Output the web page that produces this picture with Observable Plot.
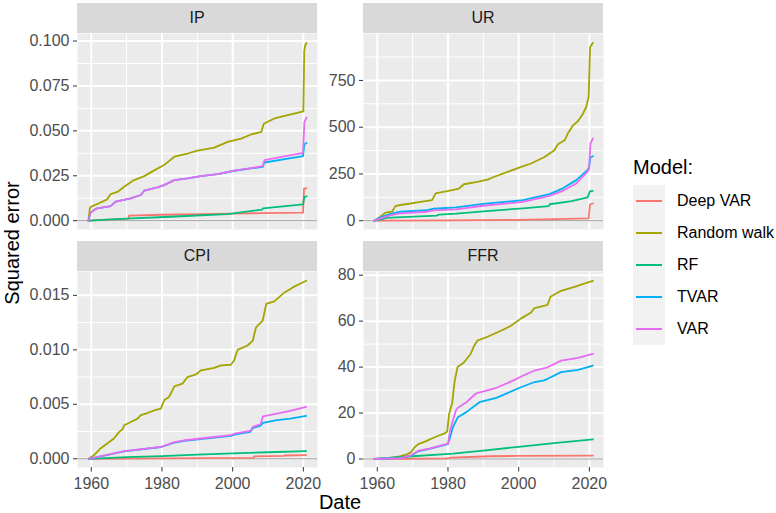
<!DOCTYPE html>
<html><head><meta charset="utf-8">
<script src="https://cdn.jsdelivr.net/npm/d3@7"></script>
<script src="https://cdn.jsdelivr.net/npm/@observablehq/plot@0.6"></script>
<style>
body{margin:0;background:#fff;}
#root{position:relative;width:776px;height:513px;font-family:"Liberation Sans",Arial,sans-serif;overflow:hidden;background:#fff;}
.strip{position:absolute;background:#D9D9D9;color:#1A1A1A;font-size:16px;display:flex;align-items:center;justify-content:center;}
.panel{position:absolute;}
.title{position:absolute;color:#000;font-size:20px;line-height:20px;white-space:nowrap;}
.key{position:absolute;width:32px;height:32px;background:#F2F2F2;}
.key div{position:absolute;left:3px;width:26px;height:2px;top:15px;}
.lab{position:absolute;font-size:16px;line-height:20px;color:#000;white-space:nowrap;}
</style></head><body><div id="root"></div>
<script>
const models = ["Deep VAR","Random walk","RF","TVAR","VAR"];
const colors = ["#F8766D","#A3A500","#00BF7D","#00B0F6","#E76BF3"];
const xMajor = [1960,1980,2000,2020];
const xMinor = [1970,1990,2010];

// IP
const ipDeepVAR = [[1959.2,0],[1965,0.0006],[1970.5,0.0012],[1970.7,0.0028],[1980,0.0033],[1990,0.0036],[2000,0.0039],[2008,0.0042],[2019.9,0.0045],[2020.2,0.018],[2020.9,0.018]];
const ipRandomWalk = [[1959.2,0],[1959.6,0.0070],[1960.0,0.0078],[1961.7,0.0093],[1964.5,0.0119],[1965.5,0.0148],[1967.4,0.0160],[1969.3,0.0189],[1972.1,0.0226],[1975.0,0.0248],[1977.8,0.0280],[1980.6,0.0310],[1982.5,0.0340],[1983.5,0.0356],[1987.2,0.0374],[1990.1,0.0390],[1994.8,0.0407],[1998.6,0.0439],[2002.4,0.0457],[2005.2,0.0480],[2008.1,0.0494],[2008.8,0.0540],[2011.8,0.0569],[2015.6,0.0587],[2020.0,0.0608],[2020.25,0.0945],[2020.5,0.0975],[2020.9,0.0989]];
const ipRF = [[1959.2,0],[1970,0.0012],[1982.4,0.0022],[1998.5,0.0037],[2008.3,0.0062],[2008.6,0.0069],[2019.9,0.0091],[2020.3,0.0133],[2020.9,0.0136]];
const ipTVAR = [[1959.2,0],[1959.8,0.0045],[1960.8,0.0060],[1961.7,0.0069],[1965.5,0.0081],[1966.9,0.0106],[1971.2,0.0124],[1974.0,0.0143],[1975.0,0.0167],[1978.7,0.0185],[1980.6,0.0198],[1983.5,0.0226],[1987.2,0.0235],[1991.0,0.0248],[1995.8,0.0259],[2000.5,0.0278],[2005.2,0.0291],[2008.5,0.0300],[2009.0,0.0324],[2019.9,0.0359],[2020.3,0.0426],[2020.9,0.0433]];
const ipVAR = [[1959.2,0],[1959.8,0.0045],[1960.8,0.0060],[1961.7,0.0069],[1965.5,0.0081],[1966.9,0.0106],[1971.2,0.0124],[1974.0,0.0143],[1975.0,0.0167],[1978.7,0.0185],[1980.6,0.0198],[1983.5,0.0226],[1987.2,0.0235],[1991.0,0.0248],[1995.8,0.0259],[2000.5,0.0279],[2005.2,0.0293],[2008.5,0.0304],[2009.0,0.0337],[2019.9,0.0378],[2020.3,0.0550],[2020.9,0.0574]];

// UR
const urDeepVAR = [[1959.15,0],[1980,2],[2000,5],[2010,8],[2019.8,12],[2020.2,88],[2021,92]];
const urRandomWalk = [[1959.15,0],[1960.85,21],[1962.3,43],[1964.2,48],[1965.1,78],[1966.5,84],[1969.4,92],[1972.2,101],[1975.5,110],[1976.5,146],[1979.8,158],[1983.1,172],[1984.5,195],[1988.3,208],[1991.2,220],[1993.1,235],[1996.9,261],[2000.7,288],[2003.5,306],[2007.3,341],[2010.1,377],[2011.1,409],[2013.0,430],[2013.9,466],[2015.4,510],[2016.8,533],[2018.2,572],[2019.1,608],[2019.8,661],[2020.2,928],[2021.0,951]];
const urRF = [[1959.15,0],[1961.5,8],[1962.5,15],[1965.4,18],[1976.8,27],[1977.5,33],[1982.3,38],[1991.8,53],[2001.2,66],[2008.5,78],[2008.8,88],[2015,105],[2019.5,125],[2020.2,158],[2021,160]];
const urTVAR = [[1959.15,0],[1960.85,18],[1963.6,36],[1966.5,48],[1974.1,57],[1976.0,64],[1982.3,71],[1990,90],[2001.2,110],[2008.7,142],[2012.5,173],[2016.3,217],[2019.5,272],[2019.9,285],[2020.3,338],[2021.0,345]];
const urVAR = [[1959.15,0],[1960.85,12],[1963.6,28],[1966.5,39],[1974.1,48],[1976.0,55],[1982.3,61],[1990,80],[2001.2,101],[2008.7,133],[2012.5,160],[2016.3,199],[2019.5,262],[2019.9,275],[2020.3,412],[2021.0,440]];

// CPI
const cpiDeepVAR = [[1959.3,0],[1980,0.00003],[2005.8,0.00008],[2006.1,0.00022],[2014.5,0.00026],[2014.8,0.0003],[2020.8,0.00034]];
const cpiRandomWalk = [[1959.3,0],[1960.8,0.00034],[1962.6,0.00095],[1964.5,0.0014],[1966.4,0.00186],[1967.9,0.00247],[1968.8,0.00268],[1969.3,0.00308],[1971.2,0.00338],[1973.1,0.00369],[1974.0,0.0040],[1975.9,0.0042],[1977.8,0.00445],[1979.7,0.0046],[1980.6,0.00537],[1982.0,0.00567],[1983.5,0.00665],[1985.8,0.00689],[1987.2,0.0075],[1989.6,0.00774],[1991.0,0.00811],[1994.8,0.00835],[1996.7,0.00857],[1999.5,0.00863],[2000.4,0.00902],[2001.4,0.0100],[2004.2,0.0104],[2005.7,0.01085],[2006.6,0.01207],[2008.5,0.01268],[2009.5,0.01421],[2011.8,0.01445],[2013.3,0.01488],[2014.7,0.01527],[2017.0,0.01573],[2018.9,0.01604],[2020.8,0.01634]];
const cpiRF = [[1959.3,0],[1970,0.00015],[1980,0.00025],[1990,0.00038],[2000,0.0005],[2010,0.0006],[2020.8,0.0007]];
const cpiTVAR = [[1959.3,0],[1969.3,0.00068],[1979.8,0.00108],[1983.5,0.00148],[1986.4,0.00165],[1991.0,0.0018],[1999.5,0.0021],[2000.5,0.00222],[2005.0,0.00248],[2005.7,0.00282],[2007.9,0.00305],[2008.6,0.0033],[2012.5,0.00354],[2016.3,0.00369],[2020.8,0.00394]];
const cpiVAR = [[1959.3,0],[1969.3,0.0007],[1979.8,0.0011],[1983.5,0.00152],[1986.4,0.0017],[1991.0,0.00186],[1999.5,0.00217],[2000.5,0.0023],[2005.0,0.00256],[2005.7,0.00293],[2007.9,0.00317],[2008.6,0.0039],[2012.5,0.00415],[2016.3,0.00439],[2020.8,0.00476]];

// FFR
const ffrDeepVAR = [[1959.15,0],[1979.5,0.3],[1981,0.6],[1991.8,1.2],[2000,1.35],[2021,1.5]];
const ffrRandomWalk = [[1959.15,0],[1962.7,0.3],[1966.3,1.1],[1968.4,2.0],[1969.6,3.0],[1970.5,5.0],[1971.5,6.4],[1973.8,7.8],[1976.7,9.8],[1978.9,11.0],[1979.8,12.0],[1980.3,19.5],[1981.2,24.5],[1981.9,34],[1982.7,40],[1984.5,42],[1986.4,45.7],[1987.4,49.3],[1988.3,51.5],[1991.2,53.2],[1995.0,55.8],[1997.8,58.0],[2000.7,61.2],[2003.5,63.8],[2004.5,65.7],[2008.2,67.1],[2009.0,70.6],[2012.0,73.2],[2015.8,74.9],[2018.7,76.4],[2021.0,77.5]];
const ffrRF = [[1959.15,0],[1970,1.2],[1981.4,2.3],[1990,3.6],[1999.3,5.2],[2010,6.9],[2021,8.5]];
const ffrTVAR = [[1959.15,0],[1966.5,0.4],[1969.6,1.5],[1971.5,3.3],[1974.7,4.4],[1980.0,6.5],[1980.6,9.5],[1981.4,13.9],[1982.8,18.2],[1985.2,20.4],[1988.9,24.7],[1993.7,26.6],[2000.3,31.0],[2004.5,33.5],[2006.9,34.1],[2008.2,34.9],[2012.0,37.8],[2016.8,38.8],[2021.0,40.6]];
const ffrVAR = [[1959.15,0],[1966.5,0.4],[1969.6,1.6],[1971.5,3.5],[1974.7,4.5],[1980.0,6.7],[1980.6,12.4],[1981.4,16.8],[1982.2,21],[1982.8,22.3],[1985.2,24.7],[1988.0,28.6],[1993.7,31.0],[1998.4,34.1],[2000.7,35.9],[2004.5,38.5],[2008.2,39.9],[2012.0,42.8],[2016.8,44.0],[2021.0,45.7]];

const ipTicks = [0,0.025,0.05,0.075,0.1], ipMinor = [0.0125,0.0375,0.0625,0.0875];
const urTicks = [0,250,500,750], urMinor = [125,375,625,875];
const cpiTicks = [0,0.005,0.01,0.015], cpiMinor = [0.0025,0.0075,0.0125];
const ffrTicks = [0,20,40,60,80], ffrMinor = [10,30,50,70];

const xDomain = [1956.1, 2024.0];
const FONT = '"Liberation Sans", Arial, sans-serif';
const root = document.getElementById("root");

function rows(series){
  const out = [];
  series.forEach((s,i)=> s.forEach(([year,value])=> out.push({model:models[i], year, value})));
  return out;
}

const panels = [
  {name:"IP", left:77, top:33, bottom:false, series:[ipDeepVAR,ipRandomWalk,ipRF,ipTVAR,ipVAR], domain:[-0.0049,0.1042], major:ipTicks, minor:ipMinor, fmt:d3.format(".3f")},
  {name:"UR", left:363, top:33, bottom:false, series:[urDeepVAR,urRandomWalk,urRF,urTVAR,urVAR], domain:[-47,1001], major:urTicks, minor:urMinor, fmt:d3.format("d")},
  {name:"CPI", left:77, top:271, bottom:true, series:[cpiDeepVAR,cpiRandomWalk,cpiRF,cpiTVAR,cpiVAR], domain:[-0.0008,0.01719], major:cpiTicks, minor:cpiMinor, fmt:d3.format(".3f")},
  {name:"FFR", left:363, top:271, bottom:true, series:[ffrDeepVAR,ffrRandomWalk,ffrRF,ffrTVAR,ffrVAR], domain:[-3.7,81.6], major:ffrTicks, minor:ffrMinor, fmt:d3.format("d")}
];

const PW = 240, PH = 196, ML = 50, MR = 6, MB = 34;

for (const p of panels) {
  const strip = document.createElement("div");
  strip.className = "strip";
  strip.style.left = p.left + "px";
  strip.style.top = (p.top - 30.5) + "px";
  strip.style.width = PW + "px";
  strip.style.height = "30.5px";
  strip.textContent = p.name;
  root.appendChild(strip);

  const chart = Plot.plot({
    width: ML + PW + MR,
    height: PH + (p.bottom ? MB : 0),
    marginLeft: ML, marginRight: MR, marginTop: 0, marginBottom: p.bottom ? MB : 0,
    style: {fontFamily: FONT, fontSize: "16px", background: "transparent", overflow: "visible"},
    x: {domain: xDomain, axis: null},
    y: {domain: p.domain},
    color: {domain: models, range: colors},
    marks: [
      Plot.frame({fill: "#EBEBEB", stroke: null}),
      Plot.gridX(xMinor, {stroke: "#fff", strokeOpacity: 1, strokeWidth: 1}),
      Plot.gridY(p.minor, {stroke: "#fff", strokeOpacity: 1, strokeWidth: 1}),
      Plot.gridX(xMajor, {stroke: "#fff", strokeOpacity: 1, strokeWidth: 2}),
      Plot.gridY(p.major, {stroke: "#fff", strokeOpacity: 1, strokeWidth: 2}),
      Plot.ruleY([0], {stroke: "#9A9A9A", strokeWidth: 1}),
      Plot.line(rows(p.series), {x: "year", y: "value", stroke: "model", z: "model", strokeWidth: 1.8, clip: true}),
      Plot.axisY(p.major, {tickSize: 4, tickPadding: 4, stroke: "#333333", fill: "#4D4D4D", tickFormat: p.fmt, label: null, fontSize: 16}),
      p.bottom ? Plot.axisX(xMajor, {tickSize: 4.5, tickPadding: 6, stroke: "#333333", fill: "#4D4D4D", tickFormat: d => String(d), label: null, fontSize: 16}) : null
    ]
  });
  const wrap = document.createElement("div");
  wrap.className = "panel";
  wrap.style.left = (p.left - ML) + "px";
  wrap.style.top = p.top + "px";
  wrap.appendChild(chart);
  root.appendChild(wrap);
}

// axis titles
const yTitle = document.createElement("div");
yTitle.className = "title";
yTitle.textContent = "Squared error";
yTitle.style.width = "200px"; yTitle.style.textAlign = "center";
yTitle.style.left = (12 - 100) + "px"; yTitle.style.top = (243 - 10) + "px";
yTitle.style.transform = "rotate(-90deg)";
root.appendChild(yTitle);

const xTitle = document.createElement("div");
xTitle.className = "title";
xTitle.textContent = "Date";
xTitle.style.width = "200px"; xTitle.style.textAlign = "center";
xTitle.style.left = (340 - 100) + "px"; xTitle.style.top = "492px";
root.appendChild(xTitle);

// legend
const lt = document.createElement("div");
lt.className = "title";
lt.textContent = "Model:";
lt.style.left = "633px"; lt.style.top = "157px";
root.appendChild(lt);
models.forEach((m, i) => {
  const k = document.createElement("div");
  k.className = "key";
  k.style.left = "633px"; k.style.top = (185 + 32 * i) + "px";
  const ln = document.createElement("div");
  ln.style.background = colors[i];
  k.appendChild(ln);
  root.appendChild(k);
  const l = document.createElement("div");
  l.className = "lab";
  l.textContent = m;
  l.style.left = "677px"; l.style.top = (185 + 32 * i + 6) + "px";
  root.appendChild(l);
});
</script></body></html>
